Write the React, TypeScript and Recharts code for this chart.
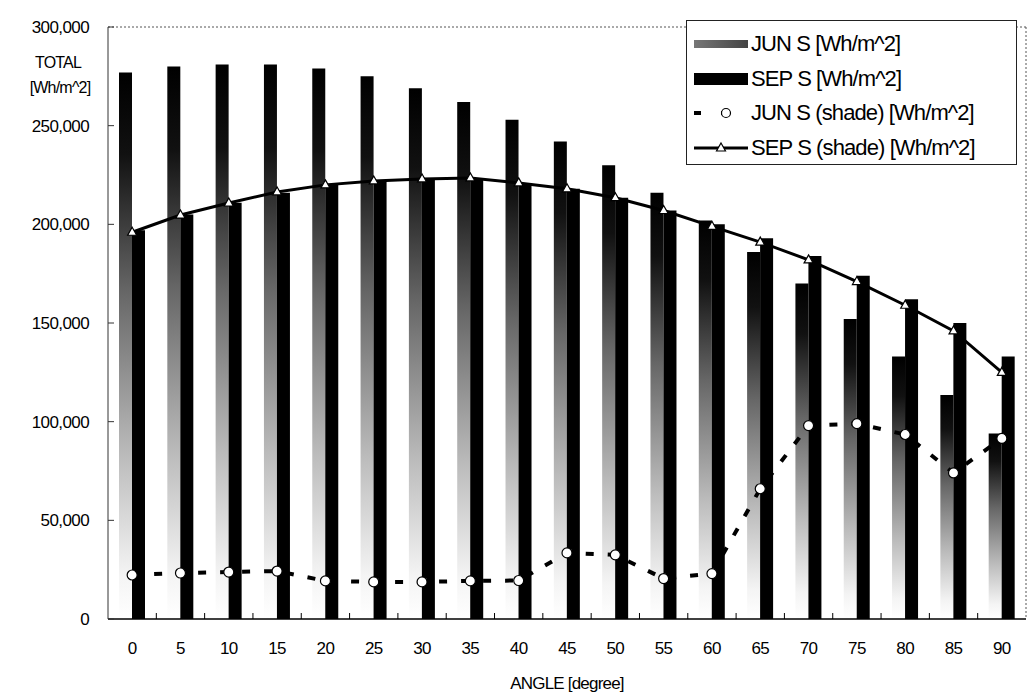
import { ComposedChart, Bar, Line, XAxis, YAxis, Legend, CartesianGrid } from 'recharts'

// Irradiation totals by tilt angle
const angles = ['0', '5', '10', '15', '20', '25', '30', '35', '40', '45', '50', '55', '60', '65', '70', '75', '80', '85', '90']
const junS = [277000, 280000, 281000, 281000, 279000, 275000, 269000, 262000, 253000, 242000, 230000, 216000, 202000, 186000, 170000, 152000, 133000, 113500, 94000]
const sepS = [197000, 205000, 211000, 216000, 220000, 222000, 223000, 223500, 221000, 218000, 213500, 207000, 200000, 193000, 184000, 174000, 162000, 150000, 133000]
const junShade = [22300, 23300, 23800, 24300, 19300, 18800, 18800, 19300, 19500, 33500, 32500, 20500, 23000, 66000, 98000, 99000, 93500, 74000, 91500]
const sepShade = [196000, 204700, 210800, 216400, 220000, 222000, 223000, 223500, 221000, 218000, 213500, 207000, 199000, 191000, 182000, 171000, 159000, 146000, 125000]

const yTicks = [0, 50000, 100000, 150000, 200000, 250000, 300000]

const seriesOrder = ['junS', 'sepS', 'junShade', 'sepShade']
const seriesNames: Record<string, string> = {
  junS: 'JUN S [Wh/m^2]',
  sepS: 'SEP S [Wh/m^2]',
  junShade: 'JUN S (shade) [Wh/m^2]',
  sepShade: 'SEP S (shade) [Wh/m^2]',
}

const data = angles.map((angle, i) => ({
  angle,
  junS: junS[i],
  sepS: sepS[i],
  junShade: junShade[i],
  sepShade: sepShade[i],
}))

const WIDTH = 1033
const HEIGHT = 694
const MARGIN = { top: 27, right: 7, left: 8, bottom: 35 }
const Y_AXIS_W = 100
const TICK_MARGIN = 23
const FONT = '"Liberation Sans", Arial, sans-serif'
const tickStyle = { fontSize: 17, fill: '#000', fontFamily: FONT, letterSpacing: -0.6 }

function TriangleDot(props: any) {
  const { cx, cy } = props
  if (cx == null || cy == null) return null
  return (
    <path
      d={`M${cx},${cy - 5} L${cx + 4.5},${cy + 3} L${cx - 4.5},${cy + 3} Z`}
      fill="#fff"
      stroke="#000"
      strokeWidth={1.2}
    />
  )
}

// angle label, plus a short inward tick on the right-hand category boundary
function AngleTick(props: any) {
  const { x, y, payload } = props
  const fallback = (WIDTH - MARGIN.left - MARGIN.right - Y_AXIS_W) / angles.length / 2
  const half = typeof payload?.offset === 'number' && payload.offset > 0 ? payload.offset : fallback
  const axisY = y - TICK_MARGIN
  const last = payload?.value === angles[angles.length - 1]
  return (
    <g>
      {!last && <line x1={x + half} x2={x + half} y1={axisY} y2={axisY - 6} stroke="#000" strokeWidth={1} />}
      <text x={x} y={y} dy="0.71em" textAnchor="middle" {...tickStyle}>
        {payload?.value}
      </text>
    </g>
  )
}

function TotalLabel(props: any) {
  const { x, y, width } = props.viewBox
  const cx = x + width / 2
  return (
    <text textAnchor="middle" fontFamily={FONT} fontSize={16} letterSpacing={-0.8} fill="#000">
      <tspan x={cx} y={y + 41}>TOTAL</tspan>
      <tspan x={cx + 2} y={y + 66}>[Wh/m^2]</tspan>
    </text>
  )
}

function AngleLabel(props: any) {
  const { x, y, width } = props.viewBox
  return (
    <text x={x + width / 2} y={y + 70} textAnchor="middle" fontFamily={FONT} fontSize={17} letterSpacing={-0.8} fill="#000">
      ANGLE [degree]
    </text>
  )
}

function LegendIcon({ dataKey }: { dataKey: string }) {
  return (
    <svg width={64} height={20} style={{ flex: 'none' }}>
      <defs>
        <linearGradient id="junSwatch" x1="0" y1="0" x2="1" y2="0">
          <stop offset="0" stopColor="#777" />
          <stop offset="1" stopColor="#444" />
        </linearGradient>
      </defs>
      {dataKey === 'junS' && <rect x={7} y={6} width={54} height={8} fill="url(#junSwatch)" />}
      {dataKey === 'sepS' && <rect x={7} y={4} width={54} height={12} fill="#000" />}
      {dataKey === 'junShade' && (
        <g>
          <line x1={7} y1={10} x2={61} y2={10} stroke="#000" strokeWidth={4} strokeDasharray="7 20" />
          <circle cx={39} cy={10} r={4.5} fill="#fff" stroke="#000" strokeWidth={1.2} />
        </g>
      )}
      {dataKey === 'sepShade' && (
        <g>
          <line x1={7} y1={10} x2={61} y2={10} stroke="#000" strokeWidth={3} />
          <TriangleDot cx={34} cy={10} />
        </g>
      )}
    </svg>
  )
}

function LegendBox(props: any) {
  const payload = [...(props.payload || [])].sort(
    (a: any, b: any) => seriesOrder.indexOf(a.dataKey) - seriesOrder.indexOf(b.dataKey)
  )
  return (
    <div
      style={{
        width: 331,
        height: 145,
        boxSizing: 'border-box',
        border: '1px solid #222',
        background: '#fff',
        paddingTop: 6,
        fontFamily: FONT,
      }}
    >
      {payload.map((entry: any) => (
        <div key={entry.dataKey} style={{ display: 'flex', alignItems: 'center', height: 34.5 }}>
          <LegendIcon dataKey={entry.dataKey} />
          <span style={{ fontSize: 22, letterSpacing: -0.9, color: '#000', whiteSpace: 'nowrap' }}>{entry.value}</span>
        </div>
      ))}
    </div>
  )
}

export default function App() {
  return (
    <div style={{ position: 'absolute', left: 0, top: 0, width: WIDTH, height: HEIGHT, background: '#fff' }}>
      <ComposedChart width={WIDTH} height={HEIGHT} data={data} margin={MARGIN} barGap={0}>
        <defs>
          <linearGradient id="junFill" x1="0" y1="0" x2="0" y2="1">
            <stop offset="0" stopColor="#000" />
            <stop offset="0.15" stopColor="#111" />
            <stop offset="0.4" stopColor="#666" />
            <stop offset="0.7" stopColor="#bbb" />
            <stop offset="0.92" stopColor="#f4f4f4" />
            <stop offset="1" stopColor="#fff" />
          </linearGradient>
        </defs>
        {/* dotted top and right edges of the plot area */}
        <CartesianGrid
          stroke="#555"
          strokeDasharray="2 2"
          horizontalCoordinatesGenerator={({ offset }: any) => [offset.top]}
          verticalCoordinatesGenerator={({ offset }: any) => [offset.left + offset.width]}
        />
        <XAxis
          dataKey="angle"
          height={40}
          axisLine={{ stroke: '#000', strokeWidth: 1.5 }}
          tickLine={false}
          tickSize={0}
          tickMargin={TICK_MARGIN}
          tick={<AngleTick />}
          interval={0}
          label={<AngleLabel />}
        />
        <YAxis
          width={Y_AXIS_W}
          domain={[0, 300000]}
          ticks={yTicks}
          allowDataOverflow
          axisLine={{ stroke: '#333' }}
          tickLine={{ stroke: '#333' }}
          tickSize={-6}
          tickMargin={25}
          tick={tickStyle}
          tickFormatter={(v: number) => v.toLocaleString('en-US')}
          label={<TotalLabel />}
        />
        <Legend
          layout="horizontal"
          verticalAlign="middle"
          align="center"
          wrapperStyle={{ left: 686, top: 20, width: 331, height: 145 }}
          content={<LegendBox />}
        />
        <Bar dataKey="junS" name={seriesNames.junS} fill="url(#junFill)" barSize={13} isAnimationActive={false} />
        <Bar dataKey="sepS" name={seriesNames.sepS} fill="#000" barSize={13} isAnimationActive={false} />
        <Line
          dataKey="junShade"
          name={seriesNames.junShade}
          type="linear"
          stroke="#000"
          strokeWidth={4}
          strokeDasharray="8 14"
          dot={{ r: 5, fill: '#fff', stroke: '#000', strokeWidth: 1.2, strokeDasharray: 'none' }}
          isAnimationActive={false}
        />
        <Line
          dataKey="sepShade"
          name={seriesNames.sepShade}
          type="linear"
          stroke="#000"
          strokeWidth={3}
          dot={<TriangleDot />}
          isAnimationActive={false}
        />
      </ComposedChart>
    </div>
  )
}
